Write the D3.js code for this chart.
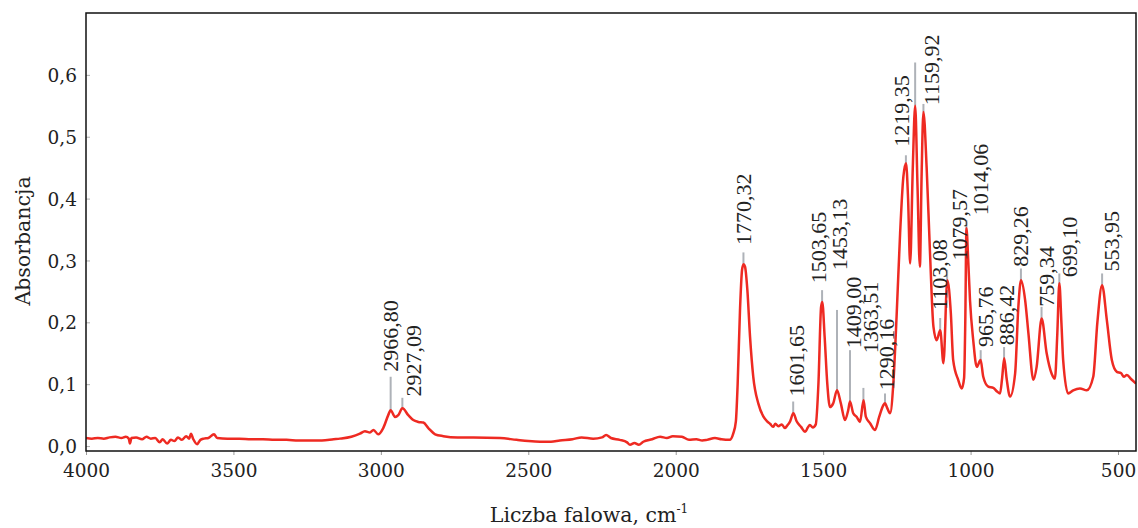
<!DOCTYPE html>
<html><head><meta charset="utf-8">
<script src="https://cdn.jsdelivr.net/npm/d3@7"></script>
<style>body{margin:0;background:#fff}</style>
</head><body>
<svg id="c" width="1138" height="528"></svg>
<script>
// ---- data ----
const wavenumber = [4000,3980,3960,3940,3920,3900,3880,3865,3855,3851,3846,3830,3810,3795,3780,3765,3750,3740,3725,3712,3700,3688,3675,3660,3650,3644,3636,3623,3612,3600,3585,3566,3555,3520,3480,3440,3400,3360,3320,3280,3240,3200,3160,3139,3100,3071,3054,3037,3025,3009,2992,2975,2967,2952,2941,2927,2907,2890,2873,2856,2839,2816,2788,2740,2686,2596,2540,2500,2460,2423,2393,2350,2319,2280,2250,2236,2220,2190,2165,2155,2140,2125,2110,2080,2053,2030,2010,1979,1955,1930,1910,1894,1867,1845,1817,1805,1796,1790,1782,1775,1770,1765,1757,1748,1737,1720,1703,1690,1680,1670,1662,1652,1640,1630,1622,1612,1601,1590,1575,1561,1552,1545,1535,1525,1516,1507,1503,1495,1486,1477,1466,1453,1440,1426,1415,1409,1398,1386,1375,1363,1355,1341,1324,1310,1296,1290,1284,1273,1262,1251,1239,1228,1219,1212,1205,1196,1188,1180,1172,1166,1160,1149,1138,1126,1115,1103,1092,1079,1067,1059,1042,1030,1022,1018,1014,1008,1002,991,979,966,957,940,923,910,900,893,886,878,866,849,838,829,815,804,787,776,759,742,725,714,706,699,692,686,669,652,629,606,584,570,554,538,521,504,490,480,470,455,439];
const absorbance = [0.013,0.012,0.013,0.012,0.014,0.015,0.013,0.015,0.012,0.004,0.013,0.014,0.011,0.015,0.012,0.013,0.006,0.011,0.004,0.010,0.008,0.014,0.010,0.016,0.012,0.020,0.011,0.003,0.010,0.012,0.013,0.019,0.013,0.012,0.012,0.011,0.011,0.010,0.010,0.009,0.009,0.009,0.011,0.012,0.015,0.020,0.024,0.022,0.026,0.019,0.029,0.050,0.058,0.047,0.050,0.061,0.050,0.042,0.039,0.038,0.029,0.019,0.016,0.014,0.014,0.013,0.010,0.008,0.007,0.007,0.009,0.011,0.014,0.012,0.014,0.018,0.013,0.010,0.006,0.002,0.005,0.002,0.007,0.011,0.015,0.013,0.016,0.015,0.010,0.011,0.009,0.010,0.013,0.011,0.010,0.020,0.040,0.100,0.220,0.285,0.294,0.290,0.252,0.177,0.112,0.069,0.048,0.040,0.036,0.031,0.036,0.032,0.035,0.029,0.033,0.040,0.053,0.040,0.031,0.023,0.030,0.034,0.030,0.035,0.101,0.225,0.233,0.177,0.101,0.063,0.069,0.090,0.069,0.042,0.058,0.072,0.053,0.047,0.039,0.074,0.047,0.037,0.026,0.047,0.066,0.069,0.063,0.053,0.101,0.209,0.344,0.435,0.457,0.400,0.295,0.450,0.550,0.420,0.290,0.440,0.540,0.450,0.317,0.193,0.171,0.187,0.134,0.268,0.215,0.139,0.107,0.093,0.110,0.200,0.352,0.300,0.236,0.171,0.128,0.139,0.112,0.096,0.094,0.088,0.085,0.110,0.142,0.110,0.080,0.117,0.225,0.268,0.236,0.183,0.107,0.128,0.206,0.150,0.117,0.109,0.180,0.263,0.200,0.139,0.085,0.090,0.093,0.090,0.112,0.200,0.260,0.204,0.139,0.120,0.118,0.112,0.115,0.108,0.101];

const peakWavenumbers = [2966.80,2927.09,1770.32,1601.65,1503.65,1453.13,1409.00,1363.51,1290.16,1219.35,1188,1159.92,1103.08,1079.57,1014.06,965.76,886.42,829.26,759.34,699.10,553.95];
const peakTexts = ["2966,80","2927,09","1770,32","1601,65","1503,65","1453,13","1409,00","1363,51","1290,16","1219,35","","1159,92","1103,08","1079,57","1014,06","965,76","886,42","829,26","759,34","699,10","553,95"];
const peakMarkTops = [0.112,0.078,0.313,0.072,0.252,0.220,0.155,0.094,0.085,0.470,0.620,0.553,0.207,0.285,0.365,0.155,0.160,0.287,0.225,0.279,0.279];
const labelWavenumbers = [2966,2891,1770,1590,1516,1443,1398,1341,1285,1234,1188,1132,1106,1039,966,951,878,832,742,666,521];
const labelBaseValues = [0.120,0.080,0.325,0.080,0.263,0.284,0.158,0.150,0.090,0.484,0,0.551,0.220,0.300,0.373,0.160,0.163,0.290,0.225,0.273,0.282];

const xTickValues = [4000,3500,3000,2500,2000,1500,1000,500];
const yTickValues = [0,0.1,0.2,0.3,0.4,0.5,0.6];
const xTitle = "Liczba falowa, cm";
const yTitle = "Absorbancja";

// ---- chart ----
const svg = d3.select("#c");
const L = 86, R = 1136, T = 13, B = 451;
const x = d3.scaleLinear().domain([4000, 439]).range([L, R]);
const y = d3.scaleLinear().domain([-0.008, 0.70]).range([B, T]);
const fmt = d => d.toFixed(1).replace(".", ",");

const tickFont = "'DejaVu Serif', serif";

// x axis
const gx = svg.append("g").attr("transform", `translate(0,${B})`)
  .call(d3.axisBottom(x).tickValues(xTickValues).tickFormat(d3.format("d")).tickSize(4).tickPadding(6));
gx.select(".domain").remove();
gx.selectAll(".tick line").attr("stroke", "#9a9a9a");
gx.selectAll(".tick text").attr("font-family", tickFont).attr("font-size", 18.5)
  .attr("fill", "#222").attr("y", 26).attr("dy", 0);

// y axis
const gy = svg.append("g").attr("transform", `translate(${L},0)`)
  .call(d3.axisLeft(y).tickValues(yTickValues).tickFormat(fmt).tickSizeInner(-4).tickSizeOuter(0).tickPadding(9));
gy.select(".domain").remove();
gy.selectAll(".tick line").attr("stroke", "#b0b0b0");
gy.selectAll(".tick text").attr("font-family", tickFont).attr("font-size", 18.5)
  .attr("fill", "#222").attr("dy", "0.36em");

// spectrum
const pts = wavenumber.map((w, i) => [w, absorbance[i]]);
const interp = w => {
  const i = d3.bisector(d => -d[0]).left(pts, -w);
  if (i <= 0) return pts[0][1];
  if (i >= pts.length) return pts[pts.length - 1][1];
  const a = pts[i - 1], b = pts[i];
  const t = (w - a[0]) / (b[0] - a[0]);
  return a[1] + t * (b[1] - a[1]);
};

const clip = svg.append("clipPath").attr("id", "pc").append("rect")
  .attr("x", L).attr("y", T).attr("width", R - L).attr("height", B - T);

// peak marker lines
svg.append("g").selectAll("line").data(peakWavenumbers).join("line")
  .attr("x1", d => x(d)).attr("x2", d => x(d))
  .attr("y1", d => y(interp(d))).attr("y2", (d, i) => y(peakMarkTops[i]))
  .attr("stroke", "#aeb2b8").attr("stroke-width", 2);

svg.append("path").datum(pts)
  .attr("clip-path", "url(#pc)")
  .attr("fill", "none").attr("stroke", "#ee2a22").attr("stroke-width", 2.5)
  .attr("stroke-linejoin", "round")
  .attr("d", d3.line().x(d => x(d[0])).y(d => y(d[1])).curve(d3.curveMonotoneX));

// labels
svg.append("g").selectAll("text").data(peakTexts.map((t, i) => ({t, i})).filter(d => d.t))
  .join("text")
  .attr("transform", d => `translate(${x(labelWavenumbers[d.i])},${y(labelBaseValues[d.i])}) rotate(-90)`)
  .attr("dominant-baseline", "central")
  .attr("font-family", "'Liberation Serif', serif").attr("font-size", 22)
  .attr("fill", "#222")
  .text(d => d.t);

// frame
svg.append("rect").attr("x", L).attr("y", T).attr("width", R - L).attr("height", B - T)
  .attr("fill", "none").attr("stroke", "#111").attr("stroke-width", 1.5);

// titles
const xt = svg.append("text").attr("x", 589).attr("y", 522).attr("text-anchor", "middle")
  .attr("font-family", tickFont).attr("font-size", 20.5).attr("fill", "#222");
xt.append("tspan").text(xTitle);
xt.append("tspan").attr("font-size", 12).attr("dy", -9).text("-1");

svg.append("text").attr("transform", "translate(23,241) rotate(-90)")
  .attr("text-anchor", "middle").attr("dominant-baseline", "central")
  .attr("font-family", tickFont).attr("font-size", 20.5).attr("fill", "#222")
  .text(yTitle);
</script>
</body></html>
